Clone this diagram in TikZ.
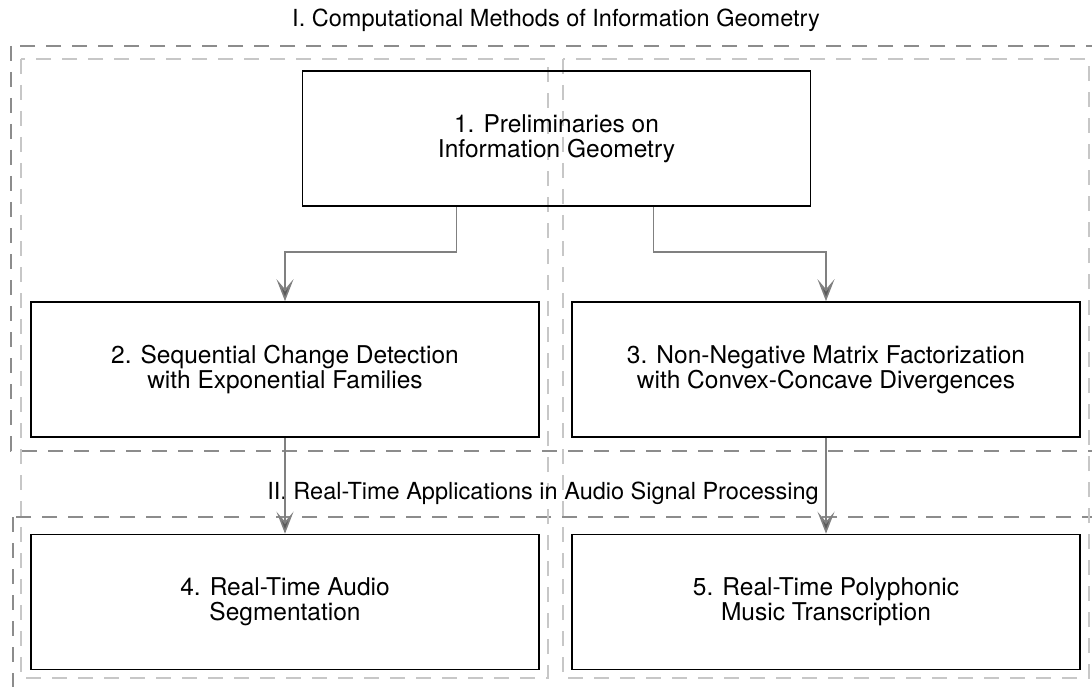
\documentclass[tikz,border=0pt]{standalone}
\usepackage{fontspec}
\setmainfont{TeX Gyre Heros}
\usetikzlibrary{arrows.meta}

\tikzset{
  box/.style={draw=black, line width=1.6pt, minimum width=508pt, minimum height=135pt,
    inner sep=0pt, align=center, font=\fontsize{24.5}{25}\selectfont},
  part/.style={draw=black!45, line width=1.6pt, dash pattern=on 15pt off 11pt},
  column/.style={draw=black!22, line width=1.6pt, dash pattern=on 15pt off 11pt},
  flow/.style={draw=black!50, line width=1.6pt,
    -{Stealth[length=22pt,width=17pt,inset=10pt,fill=black!65]}},
  parttitle/.style={font=\fontsize{23.5}{25}\selectfont}
}

\begin{document}
\begin{tikzpicture}[x=1pt,y=-1pt]
    \clip (0,0) rectangle (1092,687);

    % Parts
    \draw[part] (11,46) rectangle (1100,451);
    \draw[part] (13,517) rectangle (1100,700);
    \draw[column] (21,59) rectangle (548,678);
    \draw[column] (563,59) rectangle (1089,678);

    \node[parttitle] (t1) at (556,20) {I. Computational Methods of Information Geometry};
    \node[parttitle] (t2) at (543,493) {II. Real-Time Applications in Audio Signal Processing};

    % Chapters
    \node[box] (b1) at (556.5,138.5) {1. Preliminaries on\\Information Geometry};
    \node[box] (b2) at (285,369.5) {2. Sequential Change Detection\\with Exponential Families};
    \node[box] (b3) at (826,369.5) {3. Non-Negative Matrix Factorization\\with Convex-Concave Divergences};
    \node[box] (b4) at (285,602) {4. Real-Time Audio\\Segmentation};
    \node[box] (b5) at (826,602) {5. Real-Time Polyphonic\\Music Transcription};

    % Dependencies
    \draw[flow] ([xshift=-100pt]b1.south) -- ++(0,45) -| (b2.north);
    \draw[flow] ([xshift=97pt]b1.south) -- ++(0,45) -| (b3.north);
    \draw[flow] (b2.south) -- (b4.north);
    \draw[flow] (b3.south) -- (b5.north);

\end{tikzpicture}
\end{document}
